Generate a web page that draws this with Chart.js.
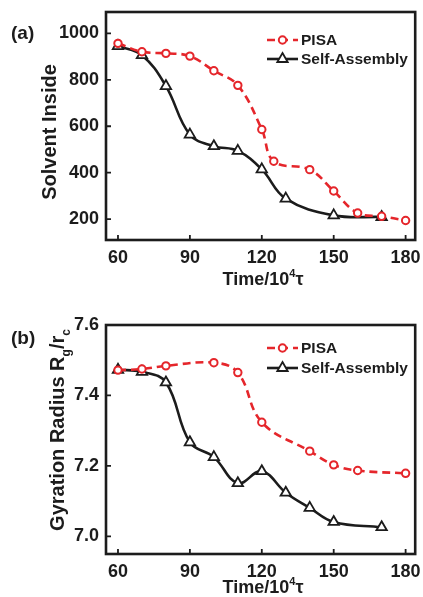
<!DOCTYPE html>
<html>
<head>
<meta charset="utf-8">
<script src="https://cdn.jsdelivr.net/npm/chart.js@4/dist/chart.umd.min.js"></script>
<style>
html, body { margin: 0; padding: 0; background: #fff; }
#wrap { position: relative; width: 423px; height: 597px; }
canvas { position: absolute; left: 0; }
</style>
</head>
<body>
<div id="wrap">
  <canvas id="chartA" width="423" height="298" style="top:0"></canvas>
  <canvas id="chartB" width="423" height="299" style="top:298px"></canvas>
</div>
<script>
// shared x axis
var timeTicks = [60, 90, 120, 150, 180];

// (a) solvent inside
var pisaTimeA = [60, 70, 80, 90, 100, 110, 120, 125, 140, 150, 160, 170, 180];
var pisaSolvent = [957, 921, 914, 902, 839, 776, 586, 449, 413, 321, 226, 212, 194];
var saTimeA = [60, 70, 80, 90, 100, 110, 120, 130, 150, 170];
var saSolvent = [945, 906, 773, 564, 514, 494, 414, 288, 216, 209];
var solventTicks = [200, 400, 600, 800, 1000];

// (b) gyration radius
var pisaTimeB = [60, 70, 80, 100, 110, 120, 140, 150, 160, 180];
var pisaRadius = [7.472, 7.475, 7.484, 7.493, 7.465, 7.324, 7.242, 7.203, 7.187, 7.179];
var saTimeB = [60, 70, 80, 90, 100, 110, 120, 130, 140, 150, 170];
var saRadius = [7.473, 7.467, 7.437, 7.267, 7.225, 7.151, 7.185, 7.124, 7.081, 7.041, 7.026];
var radiusTicks = [7.0, 7.2, 7.4, 7.6];

var FONT = '"Liberation Sans", Arial, Helvetica, sans-serif';
var RED = '#e5262b';
var INK = '#1c1c1c';

function pts(xs, ys) {
    return xs.map(function(x, i) { return { x: x, y: ys[i] }; });
}

function pisaSet(data) {
    return {
        label: 'PISA',
        data: data,
        borderColor: RED,
        borderWidth: 2.6,
        borderDash: [8, 5],
        tension: 0.4,
        pointStyle: 'circle',
        pointRadius: 3.7,
        pointBorderWidth: 2,
        pointBorderColor: RED,
        pointBackgroundColor: '#fff'
    };
}

function saSet(data) {
    return {
        label: 'Self-Assembly',
        data: data,
        borderColor: INK,
        borderWidth: 2.6,
        tension: 0.4,
        pointStyle: 'triangle',
        pointRadius: 6,
        pointBorderWidth: 1.8,
        pointBorderColor: INK,
        pointBackgroundColor: '#fff'
    };
}

// rich text: list of [text, 'sub'|'sup'|''] drawn centered on (0,0)
function richText(ctx, parts, size) {
    var small = Math.round(size * 0.62);
    var widths = parts.map(function(p) {
        ctx.font = 'bold ' + (p[1] ? small : size) + 'px ' + FONT;
        return ctx.measureText(p[0]).width;
    });
    var total = widths.reduce(function(a, b) { return a + b; }, 0);
    var x = -total / 2;
    parts.forEach(function(p, i) {
        ctx.font = 'bold ' + (p[1] ? small : size) + 'px ' + FONT;
        var dy = p[1] === 'sub' ? size * 0.32 : (p[1] === 'sup' ? -size * 0.42 : 0);
        ctx.fillText(p[0], x, dy);
        x += widths[i];
    });
}

function makeDecor(p) {
    return {
        id: 'decor',
        afterDraw: function(chart) {
            var ctx = chart.ctx, a = chart.chartArea;
            var xs = chart.scales.x, ys = chart.scales.y;
            ctx.save();
            // frame + inward ticks
            ctx.strokeStyle = INK;
            ctx.lineWidth = 2.6;
            ctx.strokeRect(a.left, a.top, a.right - a.left, a.bottom - a.top);
            ctx.lineWidth = 1.8;
            ctx.beginPath();
            xs.ticks.forEach(function(t) {
                var px = xs.getPixelForValue(t.value);
                ctx.moveTo(px, a.bottom);
                ctx.lineTo(px, a.bottom - 5);
            });
            ys.ticks.forEach(function(t) {
                var py = ys.getPixelForValue(t.value);
                ctx.moveTo(a.left, py);
                ctx.lineTo(a.left + 5, py);
            });
            ctx.stroke();

            ctx.fillStyle = INK;
            ctx.textBaseline = 'alphabetic';
            ctx.textAlign = 'left';
            // panel tag
            ctx.font = 'bold 19px ' + FONT;
            ctx.fillText(p.tag, 11, p.tagY);

            // x title
            ctx.save();
            ctx.translate(p.xTitleX, p.xTitleY);
            richText(ctx, [['Time/10', ''], ['4', 'sup'], ['\u03c4', '']], 18);
            ctx.restore();

            // y title
            ctx.save();
            ctx.translate(p.yTitleX, p.yTitleY);
            ctx.rotate(-Math.PI / 2);
            richText(ctx, p.yTitle, 20);
            ctx.restore();

            // legend
            chart.data.datasets.forEach(function(ds, i) {
                var y = p.legendY[i];
                var x0 = p.legendX, x1 = p.legendX + 31;
                ctx.save();
                ctx.strokeStyle = ds.borderColor;
                ctx.lineWidth = 2.6;
                ctx.setLineDash(ds.borderDash || []);
                ctx.beginPath();
                ctx.moveTo(x0, y);
                ctx.lineTo(x1, y);
                ctx.stroke();
                ctx.setLineDash([]);
                ctx.fillStyle = '#fff';
                ctx.lineWidth = ds.pointBorderWidth;
                Chart.helpers.drawPoint(ctx, {
                    pointStyle: ds.pointStyle,
                    radius: ds.pointRadius,
                    borderWidth: ds.pointBorderWidth
                }, (x0 + x1) / 2, y);
                ctx.restore();
                ctx.font = 'bold 15.5px ' + FONT;
                ctx.textBaseline = 'middle';
                ctx.fillText(ds.label, x1 + 3, y + 1);
                ctx.textBaseline = 'alphabetic';
            });
            ctx.restore();
        }
    };
}

function makeChart(id, p) {
    var tickFont = { family: FONT, size: 18, weight: 'bold' };
    return new Chart(document.getElementById(id), {
        type: 'line',
        data: { datasets: p.datasets },
        options: {
            responsive: false,
            animation: false,
            layout: { padding: { left: 0, right: 6, top: p.top, bottom: 0 } },
            plugins: { legend: { display: false }, tooltip: { enabled: false } },
            scales: {
                x: {
                    type: 'linear',
                    min: 55,
                    max: 184,
                    grid: { display: false, drawTicks: false },
                    border: { display: false },
                    ticks: { font: tickFont, color: INK, padding: 7, maxRotation: 0, autoSkip: false },
                    afterBuildTicks: function(s) {
                        s.ticks = timeTicks.map(function(v) { return { value: v }; });
                    },
                    afterFit: function(s) {
                        s.height = p.xHeight;
                        s.paddingLeft = 0;
                        s.paddingRight = 0;
                    }
                },
                y: {
                    type: 'linear',
                    min: p.yMin,
                    max: p.yMax,
                    grid: { display: false, drawTicks: false },
                    border: { display: false },
                    ticks: {
                        font: tickFont, color: INK, padding: 7,
                        callback: p.yFormat
                    },
                    afterBuildTicks: function(s) {
                        s.ticks = p.yTicks.map(function(v) { return { value: v }; });
                    },
                    afterFit: function(s) {
                        s.width = 106;
                        s.paddingTop = 0;
                        s.paddingBottom = 0;
                    }
                }
            }
        },
        plugins: [makeDecor(p)]
    });
}

makeChart('chartA', {
    datasets: [pisaSet(pts(pisaTimeA, pisaSolvent)), saSet(pts(saTimeA, saSolvent))],
    top: 12, xHeight: 58,
    yMin: 110, yMax: 1092, yTicks: solventTicks,
    yFormat: function(v) { return String(v); },
    tag: '(a)', tagY: 39,
    xTitleX: 263, xTitleY: 285,
    yTitleX: 56, yTitleY: 132,
    yTitle: [['Solvent Inside', '']],
    legendX: 267, legendY: [40, 59]
});

makeChart('chartB', {
    datasets: [pisaSet(pts(pisaTimeB, pisaRadius)), saSet(pts(saTimeB, saRadius))],
    top: 27, xHeight: 43,
    yMin: 6.95, yMax: 7.6, yTicks: radiusTicks,
    yFormat: function(v) { return v.toFixed(1); },
    tag: '(b)', tagY: 46,
    xTitleX: 263, xTitleY: 295,
    yTitleX: 64, yTitleY: 132,
    yTitle: [['Gyration Radius R', ''], ['g', 'sub'], ['/r', ''], ['c', 'sub']],
    legendX: 267, legendY: [50, 70]
});
</script>
</body>
</html>
